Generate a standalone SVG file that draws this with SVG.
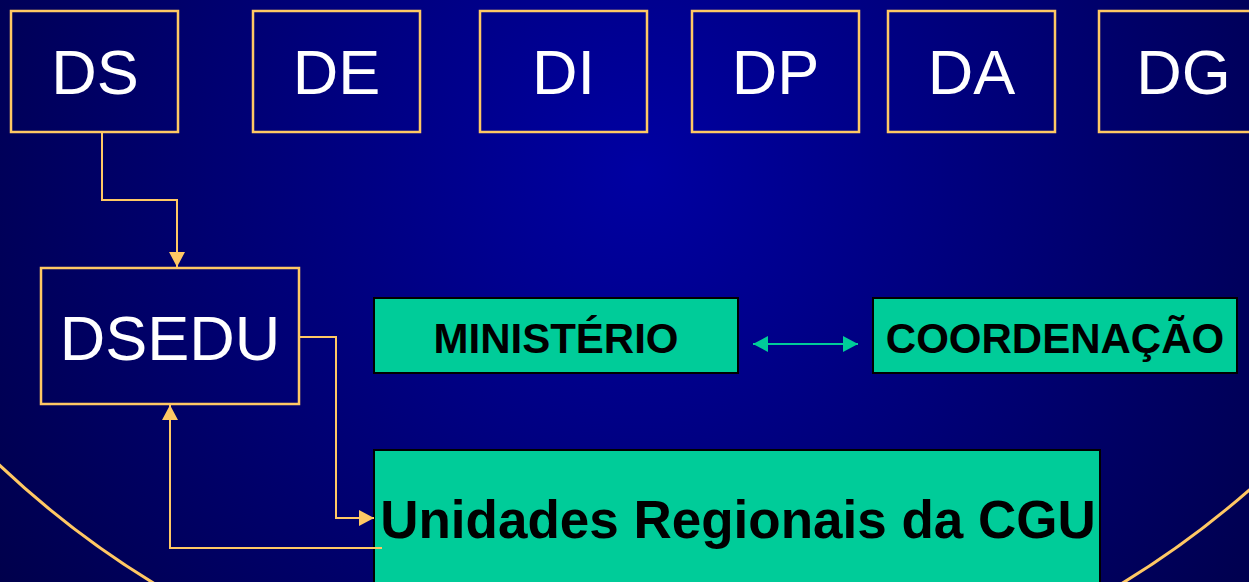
<svg xmlns="http://www.w3.org/2000/svg" width="1249" height="582" viewBox="0 0 1249 582">
<style>
.top{fill:none;stroke:#FFC864;stroke-width:2.5}
.lbl{font-family:"Liberation Sans",Arial,sans-serif;fill:#FFFFFF;font-size:63px;text-anchor:middle}
.grn{fill:#00CC99;stroke:#000000;stroke-width:2}
.blk{font-family:"Liberation Sans",Arial,sans-serif;font-weight:bold;fill:#000000;text-anchor:middle}
.con{fill:none;stroke:#FFC864;stroke-width:2}
</style>
<defs>
<radialGradient id="bg" gradientUnits="userSpaceOnUse" cx="640" cy="170" r="760">
<stop offset="0" stop-color="#0000A2"/>
<stop offset="1" stop-color="#00004C"/>
</radialGradient>
<marker id="ah" markerUnits="userSpaceOnUse" markerWidth="16" markerHeight="16" refX="15" refY="8" orient="auto">
<path d="M0,0 L15,8 L0,16 Z" fill="#FFC864"/>
</marker>
<marker id="gh" markerUnits="userSpaceOnUse" markerWidth="16" markerHeight="16" refX="15" refY="8" orient="auto-start-reverse">
<path d="M0,0 L15,8 L0,16 Z" fill="#00CC99"/>
</marker>
</defs>
<rect width="1249" height="582" fill="url(#bg)"/>
<circle cx="638" cy="-211" r="930" fill="none" stroke="#FFC864" stroke-width="3"/>
<g id="DS"><rect class="top" x="11" y="11" width="167" height="121"/><text class="lbl" x="95" y="94">DS</text></g>
<g id="DE"><rect class="top" x="253" y="11" width="167" height="121"/><text class="lbl" x="336.5" y="94">DE</text></g>
<g id="DI"><rect class="top" x="480" y="11" width="167" height="121"/><text class="lbl" x="563.5" y="94">DI</text></g>
<g id="DP"><rect class="top" x="692" y="11" width="167" height="121"/><text class="lbl" x="775.5" y="94">DP</text></g>
<g id="DA"><rect class="top" x="888" y="11" width="167" height="121"/><text class="lbl" x="971.5" y="94">DA</text></g>
<g id="DG"><rect class="top" x="1099" y="11" width="167" height="121"/><text class="lbl" x="1183.5" y="94">DG</text></g>
<g id="DSEDU"><rect class="top" x="41" y="268" width="258" height="136"/><text class="lbl" x="170" y="360" font-size="65">DSEDU</text></g>
<g id="MINISTERIO"><rect class="grn" x="374" y="298" width="364" height="75"/><text class="blk" x="556" y="353" font-size="42">MINISTÉRIO</text></g>
<g id="COORDENACAO"><rect class="grn" x="873" y="298" width="364" height="75"/><text class="blk" x="1055" y="353" font-size="42">COORDENAÇÃO</text></g>
<g id="UNIDADES"><rect class="grn" x="374" y="450" width="726" height="150"/><text class="blk" x="738" y="538" font-size="53">Unidades Regionais da CGU</text></g>
<g id="connectors">
<path class="con" d="M102,132 V200 H177 V267" marker-end="url(#ah)"/>
<path class="con" d="M299,337 H336 V518 H374" marker-end="url(#ah)"/>
<path class="con" d="M382,548 H170 V405" marker-end="url(#ah)"/>
<path d="M753,344 H858" stroke="#00CC99" stroke-width="2" fill="none" marker-start="url(#gh)" marker-end="url(#gh)"/>
</g>
</svg>
